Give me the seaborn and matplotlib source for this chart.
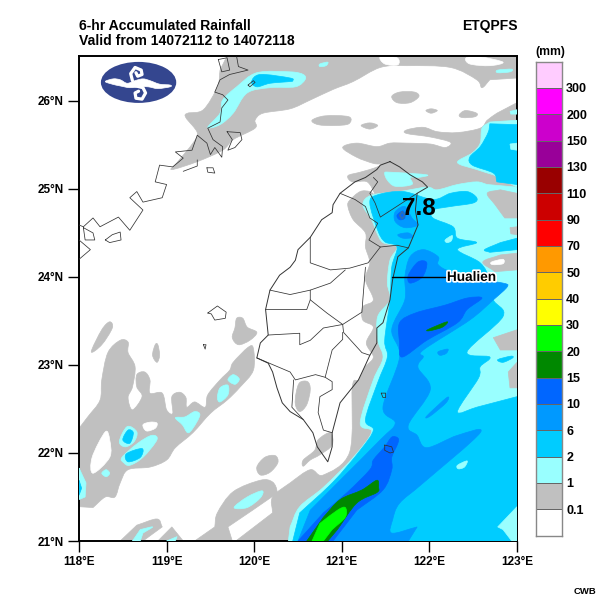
import numpy as np
import matplotlib
matplotlib.use("Agg")
import matplotlib.pyplot as plt
import matplotlib.patheffects as pe
from matplotlib.colors import ListedColormap
from matplotlib.patches import Ellipse, PathPatch
from matplotlib.path import Path
import seaborn as sns

# colour scale, top of the bar first
bar_colors = ["#FFCCFF", "#FF00FF", "#CC00CC", "#990099", "#990000", "#CC0000", "#FF0000", "#FF9900", "#FFCC00",
              "#FFFF00", "#00FF00", "#008800", "#0066FF", "#0099FF", "#00CCFF", "#99FFFF", "#C0C0C0", "#FFFFFF"]
bar_labels = ["300", "200", "150", "130", "110", "90", "70", "50", "40", "30", "20", "15", "10", "6", "2", "1", "0.1"]

lon_ticks = [118, 119, 120, 121, 122, 123]
lat_ticks = [21, 22, 23, 24, 25, 26]

# rainfall areas, lon/lat outlines
gray_areas = [
    [(119.69,26.51),(119.61,26.35),(119.58,26.16),(119.42,25.90),(119.24,25.86),(119.22,25.81),(119.35,25.64),(119.30,25.52),(119.12,25.30),(119.06,25.22),(119.35,25.31),(119.64,25.44),(119.76,25.56),(120.01,25.69),(120.01,25.78),(120.10,25.86),(120.41,25.91),(120.64,26.01),(120.90,26.13),(121.13,26.22),(121.44,26.38),(121.74,26.40),(122.24,26.38),(122.54,26.24),(122.60,26.15),(122.69,26.24),(123,26.26),(123,26.51)],
    [(121.57,26.05),(121.66,26.10),(121.83,26.10),(121.88,26.05),(121.78,25.98),(121.63,25.98)],
    [(121.96,25.89),(122.02,25.91),(122.09,25.89),(122.02,25.86)],
    [(122.34,25.84),(122.41,25.89),(122.54,25.86),(122.52,25.82),(122.38,25.81)],
    [(120.66,25.78),(120.81,25.83),(121.08,25.82),(121.08,25.74),(120.92,25.72),(120.73,25.73)],
    [(121.22,25.72),(121.32,25.75),(121.41,25.72),(121.32,25.68)],
    [(121.74,25.67),(121.93,25.70),(122.09,25.65),(122.32,25.64),(122.58,25.69),(122.66,25.78),(122.77,25.86),(123,25.98),(123,21),(119.79,21),(120.21,21.32),(120.21,21.50),(120.41,21.66),(120.64,21.81),(120.79,21.75),(121.09,22.01),(121.12,22.75),(121.19,22.83),(121.27,22.98),(121.36,23.09),(121.28,23.25),(121.36,23.43),(121.24,23.51),(121.24,23.66),(121.36,23.74),(121.27,23.97),(121.32,24.16),(121.27,24.34),(121.27,24.50),(121.13,24.65),(121.07,24.80),(121.09,24.87),(121.21,24.97),(121.32,24.97),(121.38,24.93),(121.29,25.08),(121.12,25.08),(121.07,25.15),(121.21,25.19),(121.38,25.24),(121.45,25.28),(121.36,25.29),(121.17,25.36),(121.01,25.47),(121.17,25.52),(121.40,25.48),(121.55,25.52),(121.74,25.52),(122.01,25.51),(122.18,25.47),(122.24,25.53),(122.01,25.59),(121.74,25.63)],
    [(119.32,21),(119.55,21.16),(119.58,21.32),(119.76,21.56),(120.07,21.69),(120.21,21.67),(120.26,21.56),(120.20,21.50),(119.70,21.16),(119.75,21)],
    [(118,22.28),(118.10,22.41),(118.24,22.60),(118.26,22.83),(118.33,23.14),(118.47,23.28),(118.56,23.26),(118.56,23.14),(118.64,22.98),(118.61,22.75),(118.56,22.63),(118.61,22.49),(118.72,22.64),(118.66,22.75),(118.66,22.89),(118.75,22.92),(118.81,22.83),(118.81,22.68),(118.95,22.68),(119.00,22.49),(119.07,22.45),(119.06,22.64),(119.15,22.69),(119.22,22.63),(119.23,22.52),(119.32,22.58),(119.44,22.52),(119.47,22.66),(119.61,22.83),(119.72,22.94),(119.76,23.03),(119.93,23.20),(119.99,23.19),(119.99,22.94),(119.84,22.75),(119.69,22.60),(119.50,22.45),(119.30,22.23),(119.10,22.06),(119.00,21.92),(118.81,21.84),(118.56,21.81),(118.47,21.66),(118.41,21.50),(118.30,21.50),(118.16,21.38),(118,21.39)],
    [(118.14,23.15),(118.26,23.40),(118.35,23.49),(118.38,23.42),(118.26,23.23)],
    [(118.87,23.23),(118.90,23.23),(118.92,23.11),(118.89,23.03),(118.84,23.11)],
    [(119.75,23.31),(119.78,23.42),(119.80,23.53),(119.87,23.53),(119.92,23.43),(120.03,23.37),(119.95,23.28),(119.82,23.23)],
    [(120.03,21.84),(120.12,21.95),(120.24,21.97),(120.27,21.89),(120.18,21.78),(120.07,21.75)],
    [(118.47,21),(118.66,21.18),(118.89,21.25),(118.95,21.16),(118.73,21)],
    [(118.90,21),(119.06,21.16),(119.19,21)],
    [(120.52,22.80),(120.61,22.81),(120.64,22.72),(120.60,22.55),(120.52,22.47),(120.47,22.55),(120.48,22.69)],
    [(120.87,22.23),(120.89,22.09),(120.75,21.98),(120.64,21.92),(120.56,21.85),(120.56,21.92),(120.69,22.03),(120.73,22.15)],
]
white_holes = [
    [(121.44,26.50),(121.63,26.49),(121.64,26.41),(121.49,26.42)],
    [(122.42,26.49),(122.58,26.50),(122.84,26.44),(122.69,26.40),(122.46,26.42)],
    [(118.30,22.24),(118.35,22.15),(118.35,21.95),(118.16,21.77),(118.15,21.95)],
    [(118.73,22.32),(118.81,22.35),(118.89,22.34),(118.87,22.28),(118.77,22.25)],
]
light_cyan_areas = [
    [(119.47,25.70),(119.61,25.86),(119.64,26.01),(119.80,26.16),(120.03,26.32),(120.41,26.33),(120.56,26.30),(120.58,26.24),(120.47,26.16),(120.18,26.15),(119.92,26.09),(119.76,25.86),(119.61,25.73)],
    [(118.46,22.13),(118.55,22.30),(118.66,22.24),(118.63,22.13),(118.53,22.07)],
    [(118.49,21.95),(118.67,22.11),(118.83,22.20),(118.89,22.15),(118.73,21.95),(118.58,21.86),(118.51,21.89)],
    [(118.26,21.77),(118.31,21.81),(118.35,21.77),(118.31,21.73)],
    [(118,21.83),(118.08,21.66),(118.07,21.50),(118,21.47)],
    [(119.10,22.40),(119.21,22.41),(119.32,22.47),(119.38,22.43),(119.30,22.28),(119.24,22.23),(119.18,22.32)],
    [(119.58,22.63),(119.61,22.74),(119.70,22.77),(119.70,22.66),(119.61,22.58)],
    [(119.70,22.83),(119.76,22.89),(119.83,22.84),(119.78,22.78)],
    [(119.77,21.38),(119.92,21.50),(120.09,21.57),(120.07,21.49),(119.92,21.38)],
    [(118.61,21),(118.70,21.13),(118.84,21.16),(118.73,21.09),(118.70,21)],
    [(119.00,21),(119.12,21.05),(119.10,21)],
    [(121.24,24.82),(121.34,24.93),(121.66,24.97),(121.97,25.02),(122.09,24.99),(122.32,25.05),(122.54,25.08),(122.66,25.05),(123,25.02),(123,21),(120.39,21),(120.41,21.16),(120.52,21.39),(120.79,21.61),(121.13,21.95),(121.34,22.24),(121.21,22.34),(121.36,22.83),(121.47,23.08),(121.41,23.28),(121.41,23.55),(121.55,23.74),(121.52,23.93),(121.55,24.19),(121.63,24.34),(121.47,24.39),(121.40,24.50),(121.34,24.65)],
    [(123,25.78),(122.69,25.76),(122.60,25.69),(122.58,25.52),(122.49,25.41),(122.32,25.30),(122.54,25.22),(122.73,25.16),(123,25.02)],
    [(121.49,25.18),(121.55,25.19),(121.97,25.16),(121.87,25.13),(121.78,25.13),(121.80,25.05),(121.61,25.03),(121.52,25.10)],
    [(122.92,25.88),(123,25.90),(123,25.85),(122.93,25.85)],
    [(122.78,26.35),(122.94,26.36),(122.92,26.33),(122.78,26.32)],
    [(120.75,26.42),(120.84,26.44),(120.82,26.40),(120.75,26.39)],
]
cyan_areas = [
    [(118.50,22.15),(118.56,22.26),(118.62,22.23),(118.58,22.11)],
    [(118.54,21.99),(118.72,22.05),(118.70,21.95),(118.56,21.90)],
    [(118,21.69),(118.03,21.60),(118,21.52)],
    [(119.97,26.22),(120.07,26.30),(120.41,26.26),(120.44,26.23),(120.41,26.22),(120.18,26.20),(120.03,26.16)],
    [(121.32,24.84),(121.40,24.93),(121.70,24.97),(122.04,24.88),(122.24,24.95),(122.43,24.97),(122.54,24.90),(122.50,24.84),(122.24,24.80),(122.04,24.76),(122.04,24.67),(122.27,24.57),(122.32,24.44),(122.54,24.39),(122.32,24.31),(122.58,24.16),(122.69,23.97),(122.73,23.74),(122.84,23.55),(122.43,23.15),(122.69,23.09),(122.58,22.98),(122.56,22.85),(122.32,22.47),(122.54,22.52),(123,22.64),(123,21),(120.44,21),(120.52,21.32),(120.90,21.67),(121.21,22.03),(121.36,22.26),(121.27,22.38),(121.41,22.80),(121.52,23.09),(121.49,23.28),(121.55,23.74),(121.57,24.11),(121.63,24.34),(121.49,24.40),(121.41,24.53)],
    [(122.63,24.31),(122.81,24.39),(123,24.44),(123,24.31),(122.69,24.28)],
    [(123,25.73),(122.69,25.74),(122.67,25.64),(122.58,25.48),(122.46,25.36),(122.49,25.27),(122.73,25.18),(122.77,25.08),(123,25.05)],
]
gray_patches_east = [
    [(122.66,24.95),(122.81,24.99),(123,24.95),(123,24.67),(122.86,24.67),(122.75,24.82)],
    [(122.92,24.56),(123,24.57),(123,24.48),(122.93,24.49)],
    [(122.61,24.17),(122.81,24.25),(123,24.27),(123,24.08),(122.75,24.06)],
    [(122.73,23.31),(123,23.40),(123,23.17),(122.81,23.17)],
    [(122.90,22.92),(123,23.03),(123,22.74),(122.92,22.74)],
    [(122.90,21.24),(123,21.28),(123,21.19),(122.92,21.20)],
]
white_spots_east = [
    [(122.71,24.17),(122.84,24.20),(122.84,24.15),(122.72,24.14)],
]
light_cyan_spots = [
    [(122.92,25.51),(123,25.52),(123,25.44),(122.93,25.45)],
    [(122.18,24.42),(122.26,24.47),(122.25,24.41),(122.20,24.39)],
    [(122.32,21.86),(122.43,21.91),(122.40,21.84),(122.33,21.82)],
    [(122.78,21.16),(123,21.39),(123,21),(122.94,21),(122.84,21.13)],
]
blue6_areas = [
    [(121.61,24.74),(121.72,24.80),(121.80,24.67),(121.87,24.59),(121.72,24.56),(121.61,24.63)],
    [(121.64,24.48),(121.76,24.50),(121.81,24.45),(121.70,24.44)],
    [(122.10,23.15),(122.21,23.18),(122.19,23.13),(122.12,23.11)],
    [(121.97,22.42),(122.20,22.63),(122.19,22.57),(122.01,22.42)],
    [(121.78,24.23),(121.93,24.31),(122.10,24.23),(122.10,24.14),(122.24,24.06),(122.58,23.97),(122.84,23.93),(122.89,23.89),(122.73,23.74),(122.46,23.51),(121.93,23.17),(121.93,23.09),(121.87,22.97),(122.01,22.72),(121.76,22.32),(121.86,22.20),(121.97,22.06),(122.32,22.20),(122.58,22.23),(121.93,21.66),(121.66,21.43),(121.58,21.24),(121.57,21.09),(121.86,21.16),(121.76,21),(120.50,21),(120.64,21.35),(120.98,21.69),(121.44,22.15),(121.61,22.34),(121.47,22.52),(121.66,23.09),(121.57,23.40),(121.72,23.74),(121.72,24.00)],
]
cyan_spots = [
    [(122.78,23.06),(122.93,23.10),(122.95,23.08),(122.84,23.03)],
]
blue10_areas = [
    [(121.66,23.48),(121.84,23.59),(122.18,23.68),(122.43,23.76),(122.60,23.76),(122.43,23.63),(122.32,23.48),(121.97,23.28),(121.69,23.09),(121.66,23.25)],
    [(121.76,24.02),(121.87,24.17),(121.97,24.16),(121.92,24.00),(121.78,23.93)],
    [(121.49,22.07),(121.57,22.18),(121.64,22.17),(121.64,22.11),(121.57,21.95),(121.57,21.81),(121.47,21.58),(121.17,21.35),(120.90,21),(120.50,21),(120.79,21.32),(121.06,21.55),(121.32,21.81),(121.36,21.92)],
    [(121.63,24.70),(121.70,24.75),(121.72,24.67),(121.66,24.65)],
]
green15_areas = [
    [(120.60,21),(120.79,21.27),(120.98,21.47),(121.23,21.58),(121.40,21.69),(121.42,21.61),(121.40,21.55),(121.17,21.43),(120.95,21.13),(120.84,21)],
    [(121.98,23.40),(122.20,23.49),(122.15,23.43),(122.01,23.39)],
]
green20_areas = [
    [(120.66,21),(120.75,21.20),(120.95,21.35),(121.04,21.38),(121.04,21.27),(120.89,21.13),(120.79,21)],
]
max_ring = [(121.69,24.74),(121.72,24.70),(121.69,24.66),(121.66,24.70),(121.69,24.74)]

# coast and county lines
taiwan_coast = [(121.55,25.31),(121.44,25.27),(121.40,25.22),(121.27,25.13),(121.15,25.08),(120.98,24.95),(120.90,24.82),(120.89,24.73),(120.77,24.65),(120.64,24.45),(120.50,24.31),(120.47,24.19),(120.41,24.11),(120.29,24.02),(120.18,23.85),(120.13,23.63),(120.16,23.34),(120.07,23.25),(120.03,23.08),(120.16,23.02),(120.21,22.92),(120.26,22.74),(120.32,22.57),(120.41,22.47),(120.56,22.38),(120.67,22.23),(120.72,22.07),(120.84,21.90),(120.89,22.07),(120.89,22.23),(120.98,22.57),(121.19,22.83),(121.27,23.00),(121.32,23.11),(121.40,23.25),(121.40,23.42),(121.47,23.48),(121.55,23.74),(121.58,23.97),(121.64,24.23),(121.76,24.33),(121.87,24.59),(121.84,24.76),(121.86,24.95),(121.98,25.02),(121.92,25.08),(121.78,25.16),(121.66,25.25),(121.55,25.31)]
county_lines = [
    [(121.86,24.95),(121.75,24.88),(121.44,24.68),(121.38,24.84),(121.32,24.95),(121.41,25.08),(121.36,25.13)],
    [(120.98,24.95),(121.15,24.88),(121.27,24.80),(121.32,24.67),(121.41,24.61),(121.31,24.42),(121.44,24.34)],
    [(121.76,24.33),(121.63,24.36),(121.44,24.34),(121.30,24.16),(121.09,24.10),(120.87,24.08),(120.64,24.16),(120.64,24.45)],
    [(120.18,23.85),(120.41,23.80),(120.64,23.85),(120.87,23.93),(121.04,24.08)],
    [(121.27,24.11),(121.24,23.74),(121.23,23.60),(121.01,23.46),(121.02,23.37),(121.23,23.14),(121.32,23.11)],
    [(121.01,23.37),(121.01,23.29),(120.89,23.17),(120.81,22.86),(120.89,22.81),(120.89,22.72),(120.75,22.64),(120.73,22.46),(120.79,22.26),(120.89,22.23)],
    [(120.16,23.34),(120.52,23.36),(120.52,23.23),(120.64,23.28),(120.79,23.42),(121.01,23.46)],
    [(120.64,23.74),(120.60,23.63),(120.41,23.63),(120.13,23.63)],
    [(120.64,23.85),(120.64,23.74),(120.83,23.59),(121.01,23.46)],
    [(120.03,23.08),(120.41,22.92),(120.47,22.83),(120.70,22.89),(120.81,22.86)],
    [(120.45,22.83),(120.43,22.52),(120.56,22.38)],
]
china_coast = [
    [(119.80,26.50),(119.82,26.39),(119.93,26.35),(119.72,26.30),(119.61,26.24),(119.55,26.10),(119.64,26.07),(119.70,26.01),(119.63,25.92),(119.61,25.76),(119.47,25.69),(119.53,25.56),(119.64,25.48),(119.63,25.36),(119.55,25.47),(119.50,25.39),(119.46,25.52),(119.35,25.61),(119.29,25.44),(119.10,25.42),(119.19,25.35),(119.07,25.25),(118.92,25.27),(118.87,25.08),(119.00,25.05),(118.95,24.90),(118.73,24.85),(118.66,24.97),(118.58,24.90),(118.73,24.76),(118.58,24.53),(118.45,24.68),(118.24,24.57),(118.16,24.67),(118.05,24.57),(118,24.59)],
    [(119.59,26.47),(119.69,26.49),(119.72,26.35),(119.63,26.33),(119.59,26.47)],
    [(118,24.42),(118.13,24.31),(118,24.20)],
    [(119.19,25.20),(119.35,25.26),(119.35,25.33)],
]
islands = [
    [(118.05,24.56),(118.16,24.50),(118.18,24.42),(118.07,24.42),(118.05,24.56)],
    [(118.30,24.42),(118.38,24.48),(118.47,24.51),(118.48,24.42),(118.35,24.39),(118.30,24.42)],
    [(119.46,25.24),(119.53,25.24),(119.55,25.18),(119.47,25.19),(119.46,25.24)],
    [(119.69,25.65),(119.84,25.64),(119.86,25.56),(119.78,25.47),(119.70,25.44),(119.75,25.56),(119.69,25.65)],
    [(119.93,26.18),(119.99,26.23),(120.01,26.21),(119.95,26.16),(119.93,26.18)],
    [(119.47,23.59),(119.58,23.67),(119.68,23.60),(119.67,23.53),(119.55,23.51),(119.51,23.58),(119.47,23.59)],
    [(119.42,23.23),(119.45,23.23),(119.44,23.18),(119.42,23.23)],
    [(121.45,22.68),(121.50,22.68),(121.50,22.63),(121.47,22.63),(121.45,22.68)],
    [(121.49,22.09),(121.57,22.07),(121.59,22.01),(121.55,22.00),(121.49,22.03),(121.49,22.09)],
]

# logo shapes
logo_wing = [(118.30,26.22),(118.39,26.25),(118.47,26.24),(118.55,26.20),(118.64,26.23),(118.73,26.25),(118.81,26.23),(118.92,26.19),(119.04,26.18),
             (119.04,26.16),(118.90,26.14),(118.79,26.16),(118.70,26.16),(118.58,26.15),(118.47,26.17),(118.38,26.19)]
logo_curl_up = [(118.61,26.23),(118.59,26.31),(118.64,26.38),(118.71,26.35),(118.72,26.30),(118.67,26.28),(118.65,26.32)]
logo_curl_down = [(118.65,26.17),(118.73,26.15),(118.76,26.09),(118.72,26.02),(118.65,26.03),(118.64,26.09),(118.68,26.11)]


def on_frame(p):
    return p[0] <= 118 or p[0] >= 123 or p[1] <= 21 or p[1] >= 26.51


def draw_area(ax, outline, color, zorder):
    pts = np.array(outline, dtype=float)
    verts = [pts[0]]
    codes = [Path.MOVETO]
    n = len(pts)
    for i in range(n):
        p0, p1, p2, p3 = pts[i - 1], pts[i], pts[(i + 1) % n], pts[(i + 2) % n]
        if on_frame(p1) or on_frame(p2):
            # straight run into the frame, no curve overshoot
            verts.append(p2)
            codes.append(Path.LINETO)
            continue
        if on_frame(p0):
            p0 = p1 - (p2 - p1)
        if on_frame(p3):
            p3 = p2 + (p2 - p1)
        verts += [p1 + (p2 - p0) / 6, p2 - (p3 - p1) / 6, p2]
        codes += [Path.CURVE4, Path.CURVE4, Path.CURVE4]
    ax.add_patch(PathPatch(Path(verts, codes), facecolor=color, edgecolor=color, lw=0.5, zorder=zorder))


def draw_line(ax, outline, lw=0.6, color="#333333"):
    lons, lats = zip(*outline)
    sns.lineplot(x=list(lons), y=list(lats), sort=False, estimator=None, color=color, lw=lw, ax=ax, zorder=20)


sns.set_style("white")
plt.rcParams["font.family"] = ["Liberation Sans", "DejaVu Sans"]
plt.rcParams["text.color"] = "black"
plt.rcParams["xtick.labelcolor"] = "black"
plt.rcParams["ytick.labelcolor"] = "black"

fig = plt.figure(figsize=(6, 6), dpi=100)
ax = fig.add_axes([79 / 600, 59 / 600, 438 / 600, 485 / 600])

layers = [
    (gray_areas, "#C0C0C0"), (white_holes, "#FFFFFF"), (light_cyan_areas, "#99FFFF"), (cyan_areas, "#00CCFF"),
    (gray_patches_east, "#C0C0C0"), (white_spots_east, "#FFFFFF"), (light_cyan_spots, "#99FFFF"),
    (blue6_areas, "#0099FF"), (cyan_spots, "#00CCFF"), (blue10_areas, "#0066FF"),
    (green15_areas, "#008800"), (green20_areas, "#00FF00"),
]
for z, (areas, color) in enumerate(layers):
    for area in areas:
        draw_area(ax, area, color, z + 1)

draw_line(ax, max_ring, lw=1.2, color="#2A6FB5")
draw_line(ax, taiwan_coast, lw=0.7)
for line in county_lines + china_coast + islands:
    draw_line(ax, line, lw=0.55)

ax.set_xlim(118, 123)
ax.set_ylim(21, 26.51)
ax.set_xlabel("")
ax.set_ylabel("")
ax.set_xticks(lon_ticks)
ax.set_xticklabels([f"{v}°E" for v in lon_ticks], fontsize=8.5, fontweight="bold")
ax.set_yticks(lat_ticks)
ax.set_yticklabels([f"{v}°N" for v in lat_ticks], fontsize=8.5, fontweight="bold")
ax.tick_params(axis="both", length=8, width=1, direction="out", color="black", pad=3, bottom=True, left=True)
for spine in ax.spines.values():
    spine.set_visible(True)
    spine.set_color("black")
    spine.set_linewidth(1.4)

# logo
ax.add_patch(Ellipse((118.68, 26.21), 0.86, 0.466, facecolor="#34468F", edgecolor="none", zorder=30))
draw_area(ax, logo_wing, "white", 31)
for line in (logo_curl_up, logo_curl_down):
    lons, lats = zip(*line)
    ax.plot(lons, lats, color="white", lw=2.3, solid_capstyle="round", solid_joinstyle="round", zorder=31)

# max value and station label
ax.text(121.88, 24.78, "7.8", fontsize=17.5, fontweight="bold", ha="center", va="center", color="black", zorder=40)
ax.plot([121.57, 122.2], [24.0, 24.0], color="black", lw=1, zorder=39)
ax.text(122.2, 24.0, "Hualien", fontsize=9.8, fontweight="bold", ha="left", va="center", color="black", zorder=40,
        path_effects=[pe.withStroke(linewidth=2.5, foreground="white")])

# titles
fig.text(79 / 600, 1 - 26 / 600, "6-hr Accumulated Rainfall", fontsize=10.1, fontweight="bold", va="center")
fig.text(79 / 600, 1 - 41 / 600, "Valid from 14072112 to 14072118", fontsize=10.1, fontweight="bold", va="center")
fig.text(518 / 600, 1 - 26 / 600, "ETQPFS", fontsize=10, fontweight="bold", va="center", ha="right")
fig.text(596 / 600, 1 - 592 / 600, "CWB", fontsize=6.8, fontweight="bold", va="center", ha="right")
fig.text(550 / 600, 1 - 52 / 600, "(mm)", fontsize=8.8, fontweight="bold", va="center", ha="center")

# colour bar
cax = fig.add_axes([536 / 600, 64.5 / 600, 26 / 600, 474 / 600])
cells = np.arange(len(bar_colors)).reshape(-1, 1)
sns.heatmap(cells, ax=cax, cmap=ListedColormap(bar_colors), cbar=False, linewidths=0.7, linecolor="#666666",
            xticklabels=False, yticklabels=False)
cax.yaxis.tick_right()
cax.set_yticks(np.arange(1, len(bar_labels) + 1))
cax.set_yticklabels(bar_labels, fontsize=9, fontweight="bold", rotation=0)
cax.tick_params(axis="y", length=0, pad=3, right=False)
for spine in cax.spines.values():
    spine.set_visible(True)
    spine.set_color("#888888")
    spine.set_linewidth(1)

fig.savefig("out.png", dpi=100)
